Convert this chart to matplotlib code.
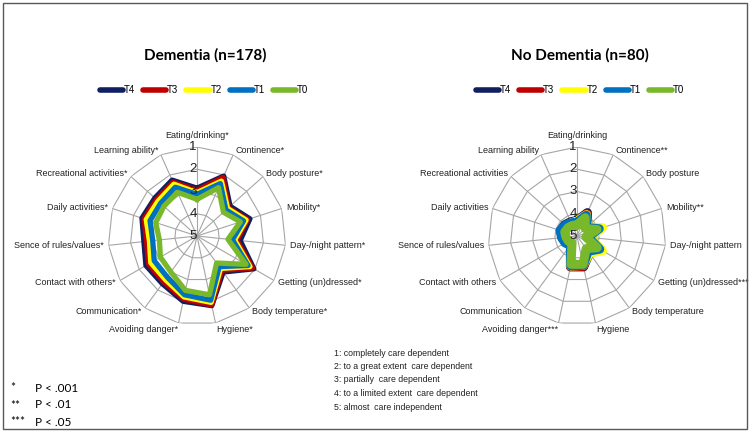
import numpy as np
import matplotlib.pyplot as plt
from matplotlib.lines import Line2D
from matplotlib.patches import Rectangle
from matplotlib import transforms

plt.rcParams['font.family'] = ['Liberation Sans', 'DejaVu Sans']

categories = ['Eating/drinking', 'Continence', 'Body posture', 'Mobility',
              'Day-/night pattern', 'Getting (un)dressed', 'Body temperature',
              'Hygiene', 'Avoiding danger', 'Communication', 'Contact with others',
              'Sence of rules/values', 'Daily activities', 'Recreational activities',
              'Learning ability']
stars_dem = ['*'] * 15
stars_nodem = ['', '**', '', '**', '', '***', '', '', '***', '', '', '', '', '', '']

series = ['T4', 'T3', 'T2', 'T1', 'T0']
colors = ['#0f1f5f', '#c00000', '#ffff00', '#0070c0', '#78b82a']

# Dementia (n=178), scores 1-5
dem_t4 = [2.85, 2.05, 3.00, 2.50, 3.05, 2.05, 3.00, 1.80, 2.00, 2.35, 2.35, 2.60, 2.40, 2.45, 2.25]
dem_t3 = [2.95, 2.12, 3.10, 2.62, 3.20, 2.12, 3.10, 1.83, 2.10, 2.45, 2.48, 2.72, 2.50, 2.55, 2.35]
dem_t2 = [3.05, 2.30, 3.15, 2.68, 3.30, 2.25, 3.20, 1.95, 2.20, 2.58, 2.60, 2.85, 2.60, 2.65, 2.45]
dem_t1 = [3.13, 2.42, 3.25, 2.80, 3.40, 2.35, 3.30, 2.05, 2.30, 2.72, 2.78, 3.00, 2.78, 2.80, 2.60]
dem_t0 = [3.35, 2.62, 3.40, 2.95, 3.60, 2.45, 3.50, 2.30, 2.50, 3.00, 3.10, 3.30, 3.05, 3.00, 2.85]

# No dementia (n=80)
nod_t4 = [4.30, 3.85, 4.36, 3.93, 4.45, 3.78, 4.05, 3.58, 3.58, 4.50, 4.40, 4.35, 4.22, 4.25, 4.30]
nod_t3 = [4.35, 3.90, 4.40, 3.95, 4.50, 3.80, 4.10, 3.60, 3.60, 4.52, 4.45, 4.40, 4.28, 4.30, 4.35]
nod_t2 = [4.33, 3.95, 4.38, 3.80, 4.45, 3.68, 4.05, 3.65, 3.62, 4.55, 4.48, 4.42, 4.30, 4.32, 4.35]
nod_t1 = [4.38, 3.98, 4.42, 3.95, 4.50, 3.82, 4.15, 3.65, 3.63, 4.50, 4.38, 4.30, 4.20, 4.28, 4.35]
nod_t0 = [4.50, 4.10, 4.50, 4.05, 4.60, 3.95, 4.30, 3.70, 3.70, 4.62, 4.55, 4.50, 4.42, 4.45, 4.48]

levels = ['1: completely care dependent', '2: to a great extent  care dependent',
          '3: partially  care dependent', '4: to a limited extent  care dependent',
          '5: almost  care independent']
pvals = [('*', 'P < .001'), ('**', 'P < .01'), ('***', 'P < .05')]

grid_c = '#a6a6a6'


def draw_radar(ax, data, stars, lw):
    n = len(categories)
    theta = np.arange(n) * 2 * np.pi / n
    tc = np.append(theta, theta[0])
    ax.set_theta_zero_location('N')
    ax.set_theta_direction(-1)
    ax.set_ylim(0, 4)
    ax.axis('off')

    for r in range(1, 5):
        ax.plot(tc, [r] * len(tc), color=grid_c, lw=0.8, zorder=1)
    for t in theta:
        ax.plot([t, t], [0, 4], color=grid_c, lw=0.8, zorder=1)

    for vals, c in zip(data, colors):
        v = np.append(vals, vals[0])
        ax.plot(tc, 5 - v, color=c, lw=lw, solid_joinstyle='round', zorder=2)

    for t, name, s in zip(theta, categories, stars):
        sn, cs = np.sin(t), np.cos(t)
        ha = 'center' if abs(sn) < 0.1 else ('left' if sn > 0 else 'right')
        va = 'center'
        rr = 4.2
        if cs > 0.95:
            va = 'bottom'
            rr = 4.33
        elif cs < -0.95:
            va = 'top'
            rr = 4.08
        ax.text(t, rr, name + s, ha=ha, va=va, fontsize=6.5, color='#222222')

    off = transforms.offset_copy(ax.transData, fig=ax.figure, x=-4, y=0, units='dots')
    for lv in range(1, 6):
        ax.text(0, 5 - lv, str(lv), transform=off, ha='center', va='center',
                fontsize=9.5, color='#222222', zorder=3)


fig = plt.figure(figsize=(7.5, 4.32), dpi=100)
W, H = 750, 432
R = 89

ax1 = fig.add_axes([(197 - R) / W, (H - 236 - R) / H, 2 * R / W, 2 * R / H], projection='polar')
draw_radar(ax1, [dem_t4, dem_t3, dem_t2, dem_t1, dem_t0], stars_dem, 3.8)
ax2 = fig.add_axes([(577 - R) / W, (H - 236 - R) / H, 2 * R / W, 2 * R / H], projection='polar')
draw_radar(ax2, [nod_t4, nod_t3, nod_t2, nod_t1, nod_t0], stars_nodem, 6.5)

fig.text(205 / W, 1 - 55 / H, 'Dementia (n=178)', ha='center', va='center',
         fontsize=11, fontweight='bold', family=['Lato', 'DejaVu Sans'])
fig.text(580 / W, 1 - 55 / H, 'No Dementia (n=80)', ha='center', va='center',
         fontsize=11, fontweight='bold', family=['Lato', 'DejaVu Sans'])

handles = [Line2D([0], [0], color=c, lw=4, solid_capstyle='round') for c in colors]
for cx in (204, 580):
    fig.legend(handles, series, loc='center', bbox_to_anchor=(cx / W, 1 - 90 / H),
               ncol=5, frameon=False, fontsize=7, handlelength=2.4,
               handletextpad=0.1, columnspacing=0.8)

for i, txt in enumerate(levels):
    fig.text(334 / W, 1 - (353 + i * 13.5) / H, txt, ha='left', va='center',
             fontsize=6.3, color='#222222')

for i, (st, p) in enumerate(pvals):
    y = 1 - (388 + i * 17) / H
    fig.text(10 / W, y, st, ha='left', va='center', fontsize=8.5,
             family=['Lato', 'DejaVu Sans'])
    fig.text(35 / W, y, p, ha='left', va='center', fontsize=8.5,
             family=['Lato', 'DejaVu Sans'])

fig.add_artist(Rectangle((3 / W, 3 / H), 744 / W, 426 / H, transform=fig.transFigure,
                         fill=False, edgecolor='#595959', lw=1))

fig.savefig('out.png', dpi=100)
